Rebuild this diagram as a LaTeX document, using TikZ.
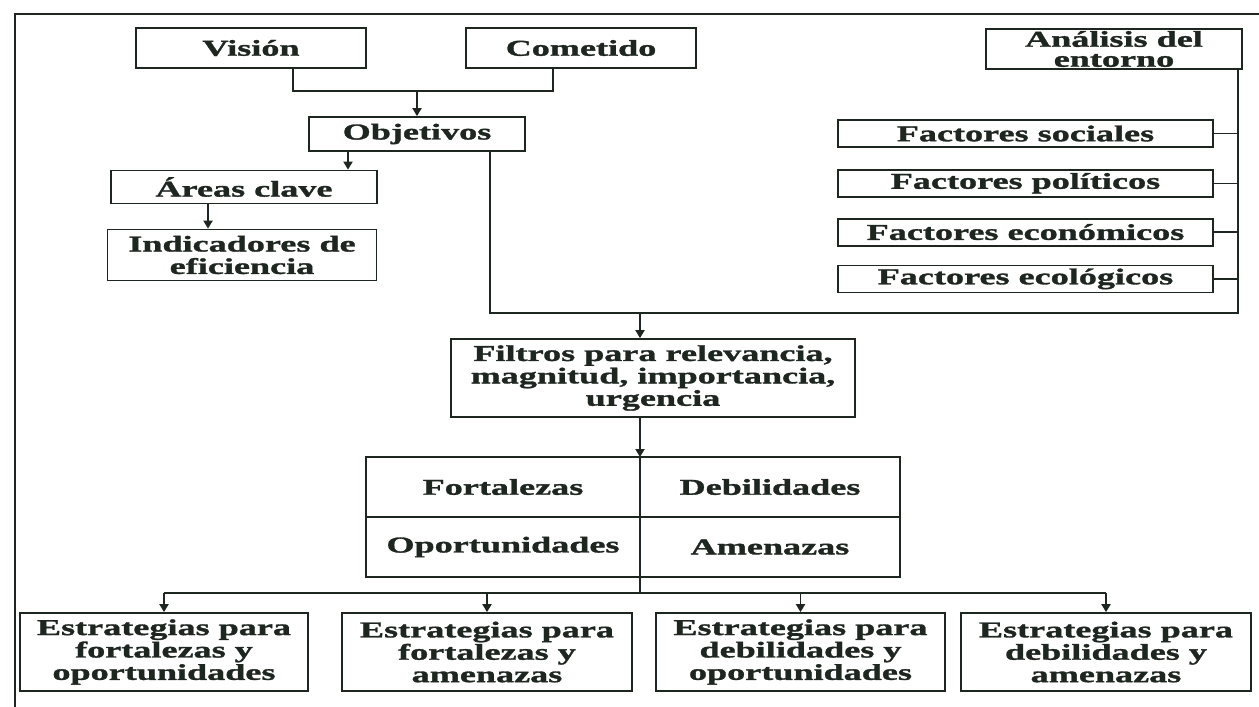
\documentclass[tikz,border=0pt]{standalone}
\usepackage{fontspec}
\newfontfamily\diagfont{Liberation Serif}[FakeStretch=1.6, FakeBold=1.4]
\usepackage{xcolor}
\usepackage{tikz}
\usetikzlibrary{arrows.meta,positioning,calc}
\definecolor{ink}{HTML}{1E2620}
\definecolor{paper}{HTML}{FFFFFF}
\tikzset{
  planbox/.style={
    rectangle, draw=ink, line width=0.9pt, text=ink,
    font=\diagfont\bfseries\fontsize{11.3pt}{11.2pt}\selectfont,
    align=center, inner sep=2pt,
    minimum width=#1, minimum height=20pt
  },
  planbox/.default=115pt,
  factorbox/.style={
    planbox=187.5pt, minimum height=13.5pt, inner sep=1pt
  },
  cellbox/.style={
    planbox=#1, minimum height=30pt, outer sep=0pt
  },
  cellbox/.default=137pt,
  stratbox/.style={
    planbox=#1, minimum height=39pt
  },
  stratbox/.default=144pt,
  arr/.style={
    -{Triangle[length=4pt, width=4.6pt]}, line width=0.7pt, color=ink
  },
  wire/.style={line width=0.7pt, color=ink},
}
\begin{document}
\begin{tikzpicture}[x=0.5pt, y=-0.5pt]
\useasboundingbox (0,0) rectangle (1259,707);
\fill[paper] (0,0) rectangle (1259,707);

% page frame
\draw[line width=1.3pt, ink] (15,707) -- (15,14) -- (1259,14);

% TOP LEFT: vision, mission, objectives
\node[planbox] (vision) at (251,48) {Visión};
\node[planbox] (cometido) at (581,48) {Cometido};
\node[planbox=108pt, minimum height=17pt] (objetivos) at (417,134) {Objetivos};
\node[planbox=133pt, minimum height=16.5pt] (areas) at (244,187) {Áreas clave};
\node[planbox=134.5pt, minimum height=25.5pt] (indic) at (242,255) {Indicadores de\\eficiencia};

\coordinate (join) at (417,91);
\draw[wire] ([xshift=21pt]vision.south) |- (join) -| ([xshift=-14pt]cometido.south);
\draw[arr] (join) -- (objetivos.north);
\draw[arr] ([xshift=52pt]areas.north |- objetivos.south) -- ([xshift=52pt]areas.north);
\draw[arr] ([xshift=-18pt]areas.south) -- ([xshift=-18pt]areas.south |- indic.north);

% TOP RIGHT: environment analysis
\node[planbox=128pt, inner ysep=1pt, font=\diagfont\bfseries\fontsize{11.3pt}{10pt}\selectfont] (analisis) at (1114,49) {Análisis del\\entorno};
\node[factorbox] (fsoc) at (1025.5,133.5) {Factores sociales};
\node[factorbox, below=10.5pt of fsoc] (fpol) {Factores políticos};
\node[factorbox, below=10pt of fpol] (feco) {Factores económicos};
\node[factorbox, below=9pt of feco] (fecl) {Factores ecológicos};

\coordinate (corner) at (1238,313);
\draw[wire] ([xshift=36.5pt]objetivos.south) |- (corner) -- (corner |- analisis.south);
\foreach \f in {fsoc,fpol,feco,fecl}
  \draw[wire] (\f.east) -- (\f.east -| corner);

% MIDDLE: filters and SWOT grid
\node[planbox=202pt, minimum height=39pt] (filtros) at (653,378) {Filtros para relevancia,\\magnitud, importancia,\\urgencia};
\node[cellbox] (fort) at (503,487) {Fortalezas};
\node[cellbox=130pt, right=0pt of fort] (debi) {Debilidades};
\node[cellbox, below=0pt of fort] (opor) {Oportunidades};
\node[cellbox=130pt, below=0pt of debi] (amen) {Amenazas};

\draw[arr] ([xshift=-6.5pt]filtros.north |- corner) -- ([xshift=-6.5pt]filtros.north);
\draw[arr] ([xshift=-6.5pt]filtros.south) -- ([xshift=-6.5pt]filtros.south |- fort.north);

% BOTTOM: strategies
\node[stratbox] (s1) at (164,652) {Estrategias para\\fortalezas y\\oportunidades};
\node[stratbox=145pt] (s2) at (487,652) {Estrategias para\\fortalezas y\\amenazas};
\node[stratbox=144.5pt] (s3) at (800.5,652) {Estrategias para\\debilidades y\\oportunidades};
\node[stratbox=145pt] (s4) at (1106,652) {Estrategias para\\debilidades y\\amenazas};

\coordinate (bus) at (640,593);
\draw[line width=1.4pt, ink] (fort.north east) -- (bus);
\draw[wire] (s1.north |- bus) -- (s4.north |- bus);
\foreach \s in {s1,s2,s3,s4}
  \draw[arr] (\s.north |- bus) -- (\s.north);

\end{tikzpicture}
\end{document}
